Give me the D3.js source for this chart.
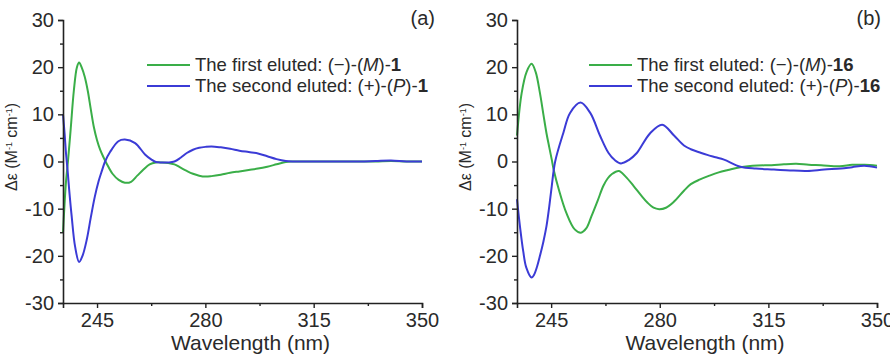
<!DOCTYPE html>
<html>
<head>
<meta charset="utf-8">
<script src="https://cdn.jsdelivr.net/npm/d3@7"></script>
<style>
    body { margin: 0; background: #fff; }
    text { font-family: "Liberation Sans", Arial, sans-serif; fill: #2a2a2a; }
</style>
</head>
<body>
<div id="chart"></div>
<script>
// ---------------------------------------------------------------- data
// axis ticks (shared by both panels)
var xTicks = [245, 280, 315, 350];
var xMinor = [262.5, 297.5, 332.5];
var yTicks = [-30, -20, -10, 0, 10, 20, 30];
var yMinor = [-25, -15, -5, 5, 15, 25];

// panel (a), compound 1
var wlA1 = [234, 234.5, 235, 235.6, 236.5, 237.5, 238.5, 239.2, 240, 241, 242, 243, 244, 245, 246, 247, 248,
    250, 252, 254, 256, 258, 260, 262, 264, 266, 268, 270, 272, 274, 276, 278, 280, 282, 285, 288, 291, 294,
    297, 300, 303, 306, 308, 312, 316, 320, 325, 330, 335, 340, 345, 350];
var deA1 = [-15, -9, -4, 0, 7, 15, 20, 21, 20, 18, 15, 11, 7.2, 4.5, 2.5, 1, -0.3,
    -2.6, -3.9, -4.5, -4.3, -3, -1.7, -0.6, -0.2, -0.2, -0.3, -0.6, -1.3, -2, -2.6, -3, -3.2, -3.1, -2.8, -2.4, -2.1, -1.8,
    -1.5, -1.1, -0.6, -0.1, 0, 0, 0, 0, 0, 0, 0, 0.1, 0, 0];

var wlA2 = [234, 234.5, 235, 235.5, 236, 236.8, 237.9, 239.2, 240.3, 241.7, 243, 244.3, 245.5, 246.5, 247.6, 249.2,
    251.9, 254, 257.3, 260.5, 262.6, 264, 266, 268, 270, 272, 274, 276, 278, 280, 282, 285, 288, 291, 294, 297,
    300, 303, 306, 308, 312, 316, 320, 325, 330, 335, 340, 345, 350];
var deA2 = [10, 6, 1.5, -2, -6, -11.6, -18, -21.3, -20, -16.5, -11.8, -7.4, -4.2, -2.1, 0, 2,
    4.3, 4.65, 3.9, 1.5, 0.4, -0.1, -0.2, -0.2, 0, 0.8, 1.8, 2.5, 2.9, 3.1, 3.2, 3, 2.7, 2.3, 2, 1.7,
    1.1, 0.5, 0.1, 0, 0, 0, 0, 0, 0, 0.1, 0.2, 0, 0];

// panel (b), compound 16
var wlB1 = [234, 235.5, 237.1, 238.7, 240, 241.4, 242.5, 243.5, 244.4, 245.2, 245.8, 247.5, 249.9, 252.6, 254.6,
    256.3, 258, 260, 261.8, 263.2, 264.5, 266.8, 269, 271.6, 274, 276, 278, 279.8, 282, 284.6, 287.8, 290, 293,
    296, 299, 302, 306, 311.5, 316, 320, 324, 328, 332, 338, 342, 346, 350];
var deB1 = [5.5, 14.5, 19, 20.7, 19, 14.5, 10, 6, 3, 0.4, -1.7, -6, -10.9, -14.4, -15.1,
    -14.2, -11.6, -8.3, -5.2, -3.6, -2.7, -2, -3.2, -5.2, -7.2, -8.7, -9.8, -10.1, -9.8, -8.5, -6.2, -4.8, -3.8,
    -3, -2.3, -1.8, -1.2, -0.85, -0.8, -0.6, -0.5, -0.7, -0.8, -1, -0.7, -0.7, -0.9];

var wlB2 = [234, 235, 236, 237, 238.7, 239.5, 240.5, 241.4, 242.5, 243.5, 244.4, 245.2, 246.3, 248.9, 251.1,
    254.5, 257.6, 260.8, 263.5, 265.5, 267.5, 270, 272.6, 276.9, 280.8, 284.6, 287.8, 290, 293, 295.3, 298, 300.7,
    306, 311, 316.8, 322, 327.5, 333, 338.4, 342, 345.9, 350];
var deB2 = [-8, -14, -19, -22.5, -24.6, -24, -22.2, -20, -17, -13.7, -9.5, -5.2, 0, 6, 10.3,
    12.5, 10.3, 5.4, 1.8, 0.3, -0.4, 0.3, 1.8, 6, 7.8, 5.5, 3.4, 2.6, 1.9, 1.4, 0.9, 0.4,
    -1.1, -1.5, -1.7, -1.9, -2, -1.7, -1.5, -1.2, -0.9, -1.3];

// ---------------------------------------------------------------- setup
var W = 890, H = 354;
var green = "#3aae48", blue = "#3b3bd6";

var svg = d3.select("#chart").append("svg")
    .attr("width", W)
    .attr("height", H);

// zip wavelength and value arrays into points
function zip(wl, de) {
    return wl.map(function (w, i) { return [w, de[i]]; });
}

// plain hyphen for negatives, like the original figure
function fmt(d) { return String(d); }

function drawPanel(left, right, tag, tagX, legendX, compound, s1, s2) {
    var x = d3.scaleLinear().domain([234, 350]).range([left, right]);
    var y = d3.scaleLinear().domain([-30, 30]).range([303, 20]);

    var g = svg.append("g");

    // lines
    var line = d3.line()
        .x(function (d) { return x(d[0]); })
        .y(function (d) { return y(d[1]); })
        .curve(d3.curveCatmullRom);

    g.append("path").datum(s1)
        .attr("d", line).attr("fill", "none")
        .attr("stroke", green).attr("stroke-width", 2);
    g.append("path").datum(s2)
        .attr("d", line).attr("fill", "none")
        .attr("stroke", blue).attr("stroke-width", 2);

    // axes (major + minor ticks)
    g.append("g").attr("transform", "translate(0,303)")
        .call(d3.axisBottom(x).tickValues(xTicks).tickSize(5).tickPadding(5).tickFormat(fmt));
    g.append("g").attr("transform", "translate(0,303)")
        .call(d3.axisBottom(x).tickValues(xMinor).tickSize(3).tickFormat(""))
        .select(".domain").remove();
    g.append("g").attr("transform", "translate(" + left + ",0)")
        .call(d3.axisLeft(y).tickValues(yTicks).tickSize(5).tickPadding(4).tickFormat(fmt));
    g.append("g").attr("transform", "translate(" + left + ",0)")
        .call(d3.axisLeft(y).tickValues(yMinor).tickSize(3).tickFormat(""))
        .select(".domain").remove();

    g.selectAll(".domain").attr("stroke", "#222").attr("stroke-width", 1.6);
    g.selectAll(".tick line").attr("stroke", "#222").attr("stroke-width", 1.4);
    g.selectAll(".tick text")
        .style("font-family", "'Liberation Sans', Arial, sans-serif")
        .style("font-size", "20px")
        .attr("fill", "#2a2a2a");

    // axis titles
    g.append("text")
        .attr("x", (left + right) / 2 + 8)
        .attr("y", 350)
        .attr("text-anchor", "middle")
        .style("font-size", "21px")
        .text("Wavelength (nm)");

    var yl = g.append("text")
        .attr("transform", "translate(" + (left - 46) + "," + 147 + ") rotate(-90)")
        .attr("text-anchor", "middle")
        .style("font-size", "16px");
    yl.append("tspan").text("Δε (M");
    yl.append("tspan").attr("dy", -5).style("font-size", "9px").text("-1");
    yl.append("tspan").attr("dy", 5).text(" cm");
    yl.append("tspan").attr("dy", -5).style("font-size", "9px").text("-1");
    yl.append("tspan").attr("dy", 5).text(")");

    // panel tag
    g.append("text")
        .attr("x", tagX)
        .attr("y", 25)
        .attr("text-anchor", "end")
        .style("font-size", "20px")
        .text(tag);

    // legend
    var entries = [
        {c: green, lead: "The first eluted: (\u2212)-(", it: "M", num: compound},
        {c: blue, lead: "The second eluted: (+)-(", it: "P", num: compound}
    ];
    entries.forEach(function (e, i) {
        var ly = 65 + i * 21;
        g.append("line")
            .attr("x1", legendX).attr("x2", legendX + 43)
            .attr("y1", ly).attr("y2", ly)
            .attr("stroke", e.c).attr("stroke-width", 2);
        var t = g.append("text")
            .attr("x", legendX + 48)
            .attr("y", ly + 6)
            .style("font-size", "18.5px");
        t.append("tspan").text(e.lead);
        t.append("tspan").style("font-style", "italic").text(e.it);
        t.append("tspan").text(")-");
        t.append("tspan").style("font-weight", "bold").text(e.num);
    });
}

drawPanel(63, 422, "(a)", 435, 147, "1", zip(wlA1, deA1), zip(wlA2, deA2));
drawPanel(517, 877, "(b)", 881, 589, "16", zip(wlB1, deB1), zip(wlB2, deB2));
</script>
</body>
</html>
